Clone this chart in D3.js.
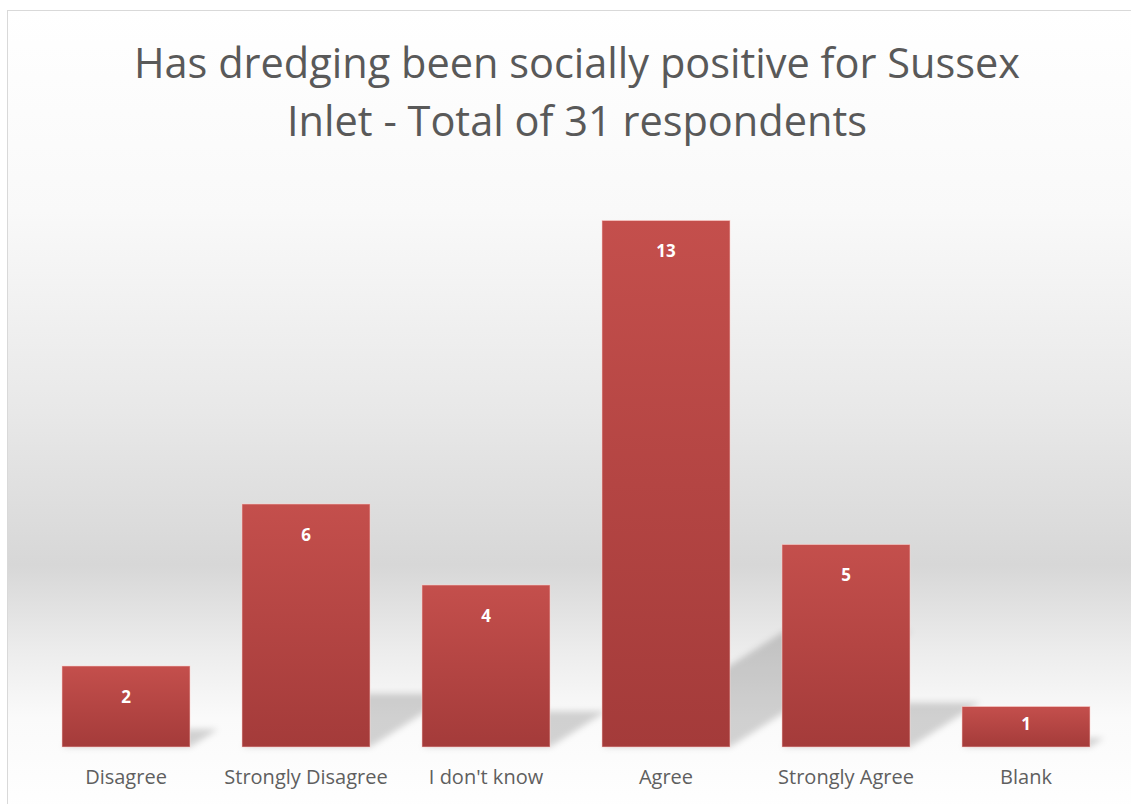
<!DOCTYPE html>
<html><head><meta charset="utf-8">
<script src="https://cdn.jsdelivr.net/npm/d3@7"></script>
<style>html,body{margin:0;padding:0;background:#fff;}svg{display:block;}</style>
</head><body>
<script>
const categories = ["Disagree","Strongly Disagree","I don't know","Agree","Strongly Agree","Blank"];
const values = [2,6,4,13,5,1];
const titleLines = ["Has dredging been socially positive for Sussex","Inlet - Total of 31 respondents"];

const W = 1131, H = 804;
const svg = d3.select("body").append("svg").attr("width", W).attr("height", H);
const defs = svg.append("defs");

const bg = defs.append("linearGradient").attr("id","bg").attr("x1",0).attr("y1",0).attr("x2",0).attr("y2",1);
[[0,"#ffffff"],[0.25,"#f9f9f9"],[0.5,"#e8e8e8"],[0.69,"#d7d7d7"],[0.8,"#ededed"],[0.88,"#fafafa"],[1,"#ffffff"]]
  .forEach(([o,c])=>bg.append("stop").attr("offset",o).attr("stop-color",c));

const barG = defs.append("linearGradient").attr("id","barg").attr("x1",0).attr("y1",0).attr("x2",0).attr("y2",1);
barG.append("stop").attr("offset",0).attr("stop-color","#c44f4c");
barG.append("stop").attr("offset",1).attr("stop-color","#a43b3a");

const blur = defs.append("filter").attr("id","blur").attr("x","-20%").attr("y","-20%").attr("width","140%").attr("height","140%");
blur.append("feGaussianBlur").attr("stdDeviation",3);

svg.append("rect").attr("x",7.5).attr("y",10.5).attr("width",W).attr("height",H)
  .attr("fill","url(#bg)").attr("stroke","#d9d9d9").attr("stroke-width",1);

const baseY = 747;
const x = d3.scaleBand().domain(categories).range([36,1116]).paddingInner(52/180).paddingOuter(26/180);
const y = d3.scaleLinear().domain([0,14]).range([baseY, baseY - 14*40.5]);

const data = categories.map((c,i)=>({c, v: values[i]}));

// perspective shadows
const k = 1.57, sy = 0.22;
svg.append("g").attr("filter","url(#blur)").selectAll("path").data(data).join("path")
  .attr("d", d => {
    const x0 = x(d.c), x1 = x0 + x.bandwidth();
    const h = baseY - y(d.v), t = h*sy, s = k*t;
    return `M${x0},${baseY}L${x1},${baseY}L${x1+s},${baseY-t}L${x0+s},${baseY-t}Z`;
  })
  .attr("fill","rgba(0,0,0,0.17)");

svg.append("g").selectAll("rect").data(data).join("rect")
  .attr("x", d=>x(d.c)).attr("y", d=>y(d.v))
  .attr("width", x.bandwidth()).attr("height", d=>baseY - y(d.v))
  .attr("fill","url(#barg)")
  .attr("stroke","rgba(255,210,205,0.55)").attr("stroke-width",1);

svg.append("g").selectAll("text").data(data).join("text")
  .attr("x", d=>x(d.c)+x.bandwidth()/2)
  .attr("y", d=>{ const h = baseY - y(d.v); return y(d.v) + Math.min(31, h/2 - 3); })
  .attr("dy","0.35em").attr("text-anchor","middle")
  .attr("font-family","'Open Sans', sans-serif").attr("font-weight","bold").attr("font-size",17)
  .attr("fill","#ffffff").text(d=>d.v);

const xAxis = svg.append("g").attr("transform",`translate(0,${baseY})`)
  .call(d3.axisBottom(x).tickSize(0).tickPadding(23));
xAxis.select(".domain").remove();
xAxis.selectAll("text").attr("font-family","'Open Sans', sans-serif").attr("font-size",20).attr("fill","#5f5f5f");

svg.append("g").selectAll("text").data(titleLines).join("text")
  .attr("x", 577).attr("y",(d,i)=>78 + i*58)
  .attr("text-anchor","middle")
  .attr("font-family","'Open Sans', sans-serif").attr("font-size",41.5).attr("fill","#595959")
  .text(d=>d);
</script>
</body></html>
